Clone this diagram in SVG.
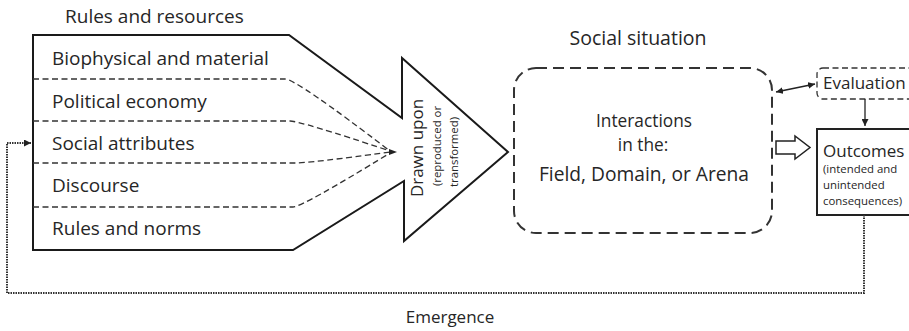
<svg xmlns="http://www.w3.org/2000/svg" width="909" height="331" viewBox="0 0 909 331">
<defs>
<style>
text{font-family:"Open Sans","Liberation Sans",sans-serif;fill:#262626}
.lbl{font-size:19px}
.solid{fill:none;stroke:#1a1a1a;stroke-width:2}
.dash{fill:none;stroke:#333;stroke-width:1.3;stroke-dasharray:6 3.5}
.dot{fill:none;stroke:#333;stroke-width:2;stroke-dasharray:1.5 1}
.thin{fill:none;stroke:#222;stroke-width:1.3}
</style>
<marker id="ah" viewBox="0 0 10 10" refX="10" refY="5" markerWidth="7" markerHeight="7" markerUnits="userSpaceOnUse" orient="auto-start-reverse"><path d="M0,0 L10,5 L0,10 Z" fill="#222"/></marker>
</defs>
<rect width="909" height="331" fill="#fff"/>

<g id="rules">
<text class="lbl" x="65" y="23">Rules and resources</text>
<path class="solid" fill="#fff" d="M33,35 H289 L402,118 V58 L508,152 L404,241 V181 L293,250 H33 Z"/>
<text class="lbl" x="52" y="65">Biophysical and material</text>
<text class="lbl" x="52" y="108">Political economy</text>
<text class="lbl" x="52" y="150">Social attributes</text>
<text class="lbl" x="52" y="192">Discourse</text>
<text class="lbl" x="52" y="235">Rules and norms</text>
</g>

<g id="drawn">
<text transform="translate(423,148) rotate(-90)" text-anchor="middle" font-size="17">Drawn upon</text>
<text transform="translate(441,146) rotate(-90)" text-anchor="middle" font-size="11.4">(reproduced or</text>
<text transform="translate(458,152) rotate(-90)" text-anchor="middle" font-size="11.4">transformed)</text>
</g>

<g id="social">
<text x="638" y="45" text-anchor="middle" font-size="19.5">Social situation</text>
<rect x="514" y="68" width="258" height="165" rx="22" fill="none" stroke="#333" stroke-width="2" stroke-dasharray="11 6"/>
<text x="644" y="127" text-anchor="middle" font-size="17.3">Interactions</text>
<text x="643" y="151" text-anchor="middle" font-size="17.3">in the:</text>
<text x="644" y="181" text-anchor="middle" font-size="19.2">Field, Domain, or Arena</text>
</g>

<g id="evaluation">
<rect x="817" y="68" width="100" height="31" rx="6" fill="none" stroke="#333" stroke-width="1.3" stroke-dasharray="6 3.5"/>
<text x="823" y="89" font-size="17">Evaluation</text>
</g>

<g id="outcomes">
<rect x="817" y="129" width="100" height="86" fill="#fff" stroke="#222" stroke-width="2"/>
<text x="823" y="157" font-size="17">Outcomes</text>
<text x="823" y="173" font-size="11.4">(intended and</text>
<text x="823" y="189" font-size="11.4">unintended</text>
<text x="823" y="205" font-size="11.4">consequences)</text>
</g>

<g id="connectors">
<path class="dash" d="M33,79 H285 Q296,79 390,151"/>
<path class="dash" d="M33,121 H290 Q300,121 390,151"/>
<path class="dash" d="M33,163 H295 Q310,163 390,152"/>
<path class="dash" d="M33,207 H293 Q302,207 390,153"/>
<path d="M389,149 L397,152 L389,155 Z" fill="#222"/>
<path class="thin" d="M776,92 L815,84" marker-start="url(#ah)" marker-end="url(#ah)"/>
<path class="thin" d="M865,99 V126" marker-end="url(#ah)"/>
<path d="M776,141 H795 V136 L810,147.5 L795,159 V154 H776 Z" fill="#fff" stroke="#222" stroke-width="1.5"/>
<path class="dot" d="M864,215 V293 H7 V143 H31" marker-end="url(#ah)"/>
<text x="450" y="323" text-anchor="middle" font-size="17">Emergence</text>
</g>
</svg>
